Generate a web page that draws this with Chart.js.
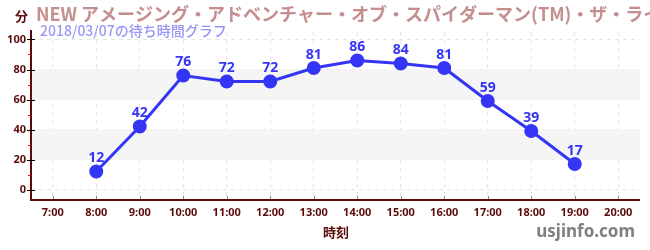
<!DOCTYPE html>
<html>
<head>
<meta charset="utf-8">
<script src="https://cdn.jsdelivr.net/npm/chart.js@4"></script>
<style>
  html, body { margin: 0; padding: 0; background: #fff; }
  #wrap { width: 650px; height: 250px; }
</style>
</head>
<body>
<div id="wrap"><canvas id="waitChart" width="650" height="250"></canvas></div>
<script>
/* Wait time line chart */

const hours = [8, 9, 10, 11, 12, 13, 14, 15, 16, 17, 18, 19];
const waitMinutes = [12, 42, 76, 72, 72, 81, 86, 84, 81, 59, 39, 17];
const hourTicks = [7, 8, 9, 10, 11, 12, 13, 14, 15, 16, 17, 18, 19, 20];
const minuteTicks = [0, 20, 40, 60, 80, 100];
const minorTicks = [10, 30, 50, 70, 90];

const titleText = "NEW アメージング・アドベンチャー・オブ・スパイダーマン(TM)・ザ・ライド 4K3D";
const subTitleText = "2018/03/07の待ち時間グラフ";

const axisColor = "#5c0a0a";
const lineColor = "#3535f5";

const decorPlugin = {
    id: "decor",
    beforeDatasetsDraw(chart) {
        const { ctx, chartArea: a, scales: { y } } = chart;
        ctx.save();
        ctx.fillStyle = "#f5f5f5";
        [[20, 40], [60, 80]].forEach(([lo, hi]) => {
            const top = y.getPixelForValue(hi);
            const bottom = y.getPixelForValue(lo);
            ctx.fillRect(a.left, top, a.right - a.left, bottom - top);
        });
        ctx.restore();
    },
    afterDraw(chart) {
        const { ctx, chartArea: a, scales: { x, y } } = chart;
        ctx.save();

        // axis lines
        ctx.strokeStyle = axisColor;
        ctx.lineWidth = 2;
        ctx.beginPath();
        ctx.moveTo(a.left, 30);
        ctx.lineTo(a.left, a.bottom);
        ctx.lineTo(a.right, a.bottom);
        ctx.stroke();

        // y tick marks
        ctx.lineWidth = 1;
        ctx.strokeStyle = "#000";
        minuteTicks.forEach(v => {
            const py = Math.round(y.getPixelForValue(v)) + 0.5;
            ctx.beginPath();
            ctx.moveTo(a.left - 4, py);
            ctx.lineTo(a.left + 4, py);
            ctx.stroke();
        });
        ctx.strokeStyle = "#e01010";
        minorTicks.forEach(v => {
            const py = Math.round(y.getPixelForValue(v)) + 0.5;
            ctx.beginPath();
            ctx.moveTo(a.left - 3, py);
            ctx.lineTo(a.left, py);
            ctx.stroke();
        });

        // x tick marks
        ctx.strokeStyle = "#888";
        hourTicks.forEach(h => {
            const px = Math.round(x.getPixelForValue(h)) + 0.5;
            ctx.beginPath();
            ctx.moveTo(px, a.bottom - 4);
            ctx.lineTo(px, a.bottom - 1);
            ctx.stroke();
        });

        // value labels
        const meta = chart.getDatasetMeta(0);
        ctx.fillStyle = lineColor;
        ctx.font = "bold 14px 'Noto Sans'";
        ctx.textAlign = "center";
        ctx.textBaseline = "bottom";
        meta.data.forEach((pt, i) => {
            ctx.fillText(String(waitMinutes[i]), pt.x, pt.y - 6);
        });

        // header texts
        ctx.textAlign = "left";
        ctx.textBaseline = "middle";
        ctx.fillStyle = "#c48e8e";
        ctx.font = "bold 18px 'Noto Sans CJK JP'";
        ctx.fillText(titleText, 36, 14);
        ctx.fillStyle = axisColor;
        ctx.font = "bold 13px 'Noto Sans CJK JP'";
        ctx.fillText("分", 15, 16);
        ctx.fillStyle = "#9797f7";
        ctx.font = "500 14px 'Noto Sans CJK JP'";
        ctx.fillText(subTitleText, 40, 31);

        // axis title and site name
        ctx.textAlign = "center";
        ctx.fillStyle = axisColor;
        ctx.font = "bold 13px 'Noto Sans CJK JP'";
        ctx.fillText("時刻", 336, 232);
        ctx.textAlign = "right";
        ctx.fillStyle = "#808080";
        ctx.font = "bold 17px 'Noto Sans'";
        ctx.fillText("usjinfo.com", 635, 232);

        ctx.restore();
    }
};

new Chart(document.getElementById("waitChart"), {
    type: "line",
    data: {
        datasets: [{
            data: hours.map((h, i) => ({ x: h, y: waitMinutes[i] })),
            borderColor: lineColor,
            backgroundColor: lineColor,
            borderWidth: 3,
            pointRadius: 5.5,
            pointHoverRadius: 5.5,
            tension: 0
        }]
    },
    options: {
        responsive: false,
        animation: false,
        layout: { padding: { left: 0, right: 10, top: 32, bottom: 0 } },
        plugins: {
            legend: { display: false },
            tooltip: { enabled: false }
        },
        scales: {
            x: {
                type: "linear",
                min: 6.5,
                max: 20.5,
                afterBuildTicks: s => { s.ticks = hourTicks.map(v => ({ value: v })); },
                afterFit: s => { s.height = 50; },
                border: { display: false, dash: [4, 4] },
                grid: { color: "#e4e4e4", drawTicks: false },
                ticks: {
                    color: axisColor,
                    font: { family: "'Noto Sans'", size: 11, weight: "bold" },
                    padding: 6,
                    maxRotation: 0,
                    callback: v => v + ":00"
                }
            },
            y: {
                min: -7,
                max: 105,
                afterBuildTicks: s => { s.ticks = minuteTicks.map(v => ({ value: v })); },
                afterFit: s => { s.width = 31; },
                border: { display: false, dash: [4, 4] },
                grid: { color: "#e4e4e4", drawTicks: false },
                ticks: {
                    color: axisColor,
                    font: { family: "'Noto Sans'", size: 11, weight: "bold" },
                    padding: 5
                }
            }
        }
    },
    plugins: [decorPlugin]
});
</script>
</body>
</html>
